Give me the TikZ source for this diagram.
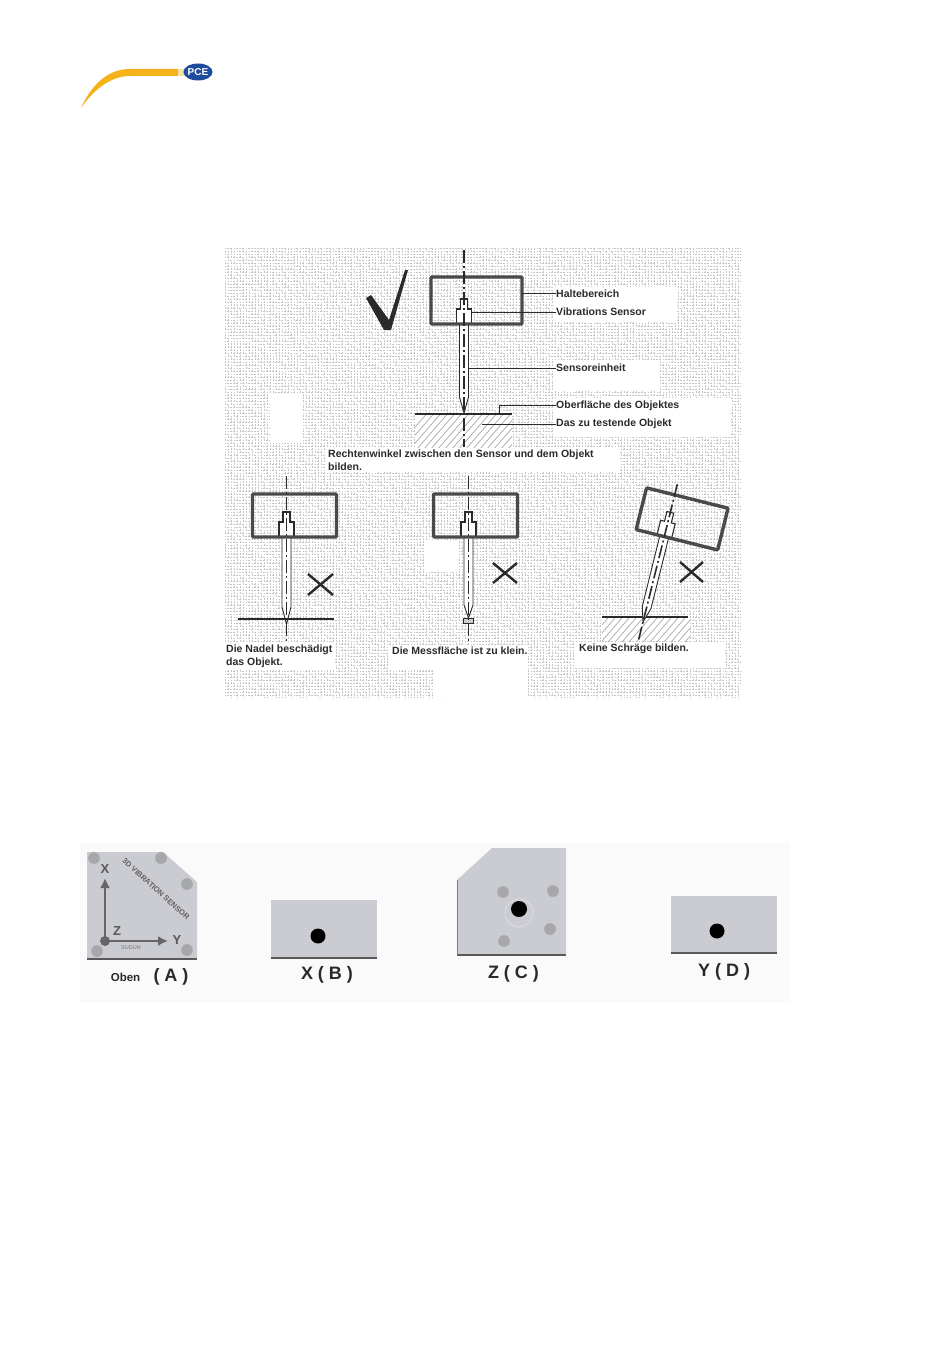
\documentclass[tikz,border=0pt]{standalone}
\usepackage{fontspec}
\setmainfont{Liberation Sans}
\usetikzlibrary{patterns,arrows.meta,shapes.geometric}
\definecolor{ink}{HTML}{2A2A2A}
\definecolor{plate}{HTML}{CBCCD2}
\definecolor{holeg}{HTML}{A6A7AA}
\definecolor{pceblue}{HTML}{1F4B9C}
\definecolor{swoosh}{HTML}{F5B21A}
\tikzset{
  lab/.style={font=\bfseries\fontsize{10.5}{12.5}\selectfont,text=ink,anchor=west,inner sep=0pt,align=left},
  lead/.style={draw=ink,line width=0.8pt},
  holderbox/.style={draw=ink!85,line width=3.4pt,rounded corners=1pt},
  axisline/.style={draw=ink,line width=1.6pt,dash pattern=on 13pt off 3pt on 2pt off 3pt},
  cross/.style={draw=ink,line width=2.4pt},
  ground/.style={draw=ink,line width=1.2pt},
  hatchline/.style={draw=gray!75,line width=0.6pt},
  whitepatch/.style={fill=white,draw=none},
  mazeline/.style={draw=gray!45,line width=0.45pt,dash pattern=on 0.8pt off 0.7pt},
  plateshape/.style={fill=plate,draw=none},
  plateedge/.style={draw=black!65,line width=1.4pt},
  hole/.style={fill=holeg,draw=black!25,line width=0.4pt},
  bore/.style={fill=black,draw=none},
  platelab/.style={font=\bfseries\fontsize{18}{20}\selectfont,text=ink,inner sep=0pt},
  axlab/.style={font=\bfseries\fontsize{13}{15}\selectfont,text=black!65,inner sep=0pt},
  axarrow/.style={draw=black!60,line width=2.4pt,-{Latex[length=10pt,width=10pt]}},
  needleline/.style={draw=ink,line width=0.9pt,fill=white},
  sensorpart/.style={draw=ink,line width=1.1pt,fill=white}
}
% #1 left edge of holder, #2 height of holder above the tip, #3 holder height, #4 taper length, #5 holder width
\newcommand{\sensorbody}[5]{
  \draw[needleline] (-4.5,{-(#2)}) -- (-4.5,{-(#4)}) -- (0,0) -- (4.5,{-(#4)}) -- (4.5,{-(#2)}) -- cycle;
  \draw[sensorpart] (-7.5,{-(#2)}) -- (-7.5,{-(#2)-15}) -- (-3.5,{-(#2)-15}) -- (-3.5,{-(#2)-25}) -- (3.5,{-(#2)-25}) -- (3.5,{-(#2)-15}) -- (7.5,{-(#2)-15}) -- (7.5,{-(#2)}) -- cycle;
  \draw[holderbox] ({#1},{-(#2)}) rectangle ({(#1)+(#5)},{-(#2)-(#3)});
}
\begin{document}
\begin{tikzpicture}[x=1pt,y=-1pt]
\useasboundingbox (0,0) rectangle (950,1364);
\fill[white] (0,0) rectangle (950,1364);
% logo
\fill[swoosh] (81,108) .. controls (92,84) and (108,69) .. (130,69) -- (178,69) -- (178,76) -- (130,76) .. controls (112,76) and (95,88) .. (81,108) -- cycle;
\fill[swoosh!40] (178,69) rectangle (184,76);
\node[ellipse,fill=pceblue,draw=none,minimum width=26pt,minimum height=17pt,inner sep=0pt,text=white,font=\bfseries\fontsize{10}{10}\selectfont] (logo) at (198,72) {PCE};
% textured panel
\pgfmathsetseed{7}
\foreach \x in {225,228,...,738} {
  \draw[mazeline] \foreach \y in {248,251,...,695} {
    \pgfextra{\pgfmathtruncatemacro\rr{random(0,1)}} (\x,\y) -- ++({3*\rr},{3*(1-\rr)}) };
}
\fill[whitepatch] (553,287) rectangle (677,322);
\fill[whitepatch] (553,360) rectangle (660,390);
\fill[whitepatch] (553,398) rectangle (730,437);
\fill[whitepatch] (325,447) rectangle (620,472);
\fill[whitepatch] (270,393) rectangle (303,443);
\fill[whitepatch] (225,643) rectangle (335,670);
\fill[whitepatch] (388,645) rectangle (528,670);
\fill[whitepatch] (433,670) rectangle (528,698);
\fill[whitepatch] (575,642) rectangle (725,668);
\fill[whitepatch] (424,541) rectangle (459,572);
% check mark
\fill[ink] (366,298) -- (371,295) -- (389,320) -- (405,270) -- (408,270) -- (391,330) -- (384,330) -- cycle;
% top correct sensor
\begin{scope}
  \clip (415,414) rectangle (512,447);
  \fill[white] (415,414) rectangle (512,447);
  \foreach \k in {0,7,...,140} \draw[hatchline] (395+\k,450) -- (430+\k,410);
\end{scope}
\draw[ground] (415,414) -- (512,414);
\begin{scope}[shift={(464,413)}]
  \sensorbody{-33}{89}{47}{16}{91}
\end{scope}
\draw[axisline] (464,250) -- (464,447);
\node[lab] (halte) at (556,293.5) {Haltebereich};
\node[lab] (vib) at (556,312) {Vibrations Sensor};
\node[lab] (einheit) at (556,368) {Sensoreinheit};
\node[lab] (ober) at (556,405.5) {Oberfläche des Objektes};
\node[lab] (test) at (556,424) {Das zu testende Objekt};
\coordinate (hA) at (522,293.5);
\coordinate (vA) at (472,312);
\coordinate (eA) at (469,368);
\coordinate (oA) at (499,414);
\coordinate (tA) at (482,424);
\draw[lead] (hA) -- (halte.west);
\draw[lead] (vA) -- (vib.west);
\draw[lead] (eA) -- (einheit.west);
\draw[lead] (oA) |- (ober.west);
\draw[lead] (tA) -- (test.west);
\node[lab] (right) at (328,460) {Rechtenwinkel zwischen den Sensor und dem Objekt\\bilden.};
% wrong 1
\begin{scope}[shift={(286.5,624)}]
  \sensorbody{-34}{87}{43}{17}{84}
\end{scope}
\draw[ground] (238,619) -- (334,619);
\draw[axisline] (286.5,476) -- (286.5,642);
\draw[cross] (308,574) -- (333,595) (333,574) -- (308,595);
\node[lab] (w1) at (226,656.5) {Die Nadel beschädigt\\das Objekt.};
% wrong 2
\begin{scope}[shift={(468.5,618)}]
  \sensorbody{-35}{81}{43}{13}{84}
\end{scope}
\draw[ink,line width=0.7pt,fill=gray!40] (463.5,618) rectangle (473.5,623);
\draw[axisline] (468.5,476) -- (468.5,644);
\draw[cross] (493,563) -- (517,583) (517,563) -- (493,583);
\node[lab] (w2) at (392,651) {Die Messfläche ist zu klein.};
% wrong 3
\begin{scope}
  \clip (602,617) rectangle (690,641);
  \fill[white] (602,617) rectangle (690,641);
  \foreach \k in {0,7,...,120} \draw[hatchline] (580+\k,650) -- (615+\k,610);
\end{scope}
\draw[ground] (602,617) -- (688,617);
\begin{scope}[shift={(643,622)},rotate=-14]
  \sensorbody{-29}{88}{43}{15}{84}
  \draw[axisline] (0,18) -- (0,-143);
\end{scope}
\draw[cross] (680,562) -- (703,582) (703,562) -- (680,582);
\node[lab] (w3) at (579,649) {Keine Schräge bilden.};
% lower band
\fill[black!2] (80,843) rectangle (790,1003);
% plate A
\fill[plateshape] (87,852) -- (163,852) -- (197,882) -- (197,959) -- (87,959) -- cycle;
\draw[plateedge] (87,959) -- (197,959);
\foreach \p in {(94,858),(161,858),(187,884),(187,950),(97,951)} \fill[hole] \p circle (6);
\node[rotate=-42,font=\bfseries\fontsize{7.6}{8}\selectfont,text=black!62,inner sep=0pt] (brand) at (156,889) {3D VIBRATION SENSOR};
\fill[black!60] (105,941) circle (5);
\coordinate (origin) at (105,941);
\node[axlab] (ax) at (105,869) {X};
\node[axlab] (ay) at (177,940) {Y};
\node[axlab] (az) at (117,931) {Z};
\coordinate (xend) at (105,878);
\coordinate (yend) at (168,941);
\draw[axarrow] (origin) -- (xend);
\draw[axarrow] (origin) -- (yend);
\node[font=\fontsize{5.5}{6}\selectfont,text=black!55,inner sep=0pt] (tiny) at (131,948) {SUDUN};
\node[font=\bfseries\fontsize{11.5}{13}\selectfont,text=ink,inner sep=0pt] (oben) at (125.5,977) {Oben};
\node[platelab] (la) at (171,977) {( A )};
% plate B
\fill[plateshape] (271,900) rectangle (377,958);
\draw[plateedge] (271,958) -- (377,958);
\fill[bore] (318,936) circle (7.5);
\node[platelab] (lb) at (327,975) {X ( B )};
% plate C
\fill[plateshape] (457,880) -- (492,848) -- (566,848) -- (566,955) -- (457,955) -- cycle;
\draw[plateedge] (457,955) -- (566,955);
\draw[black!50,line width=1pt] (457,880) -- (457,955);
\draw[plate!60!white,line width=0.7pt] (519,913) circle (14);
\foreach \p in {(503,892),(553,891),(550,929),(504,941)} \fill[hole] \p circle (6);
\fill[bore] (519,909) circle (8);
\node[platelab] (lc) at (513.5,974) {Z ( C )};
% plate D
\fill[plateshape] (671,896) rectangle (777,953);
\draw[plateedge] (671,953) -- (777,953);
\fill[bore] (717,931) circle (7.5);
\node[platelab] (ld) at (724,972) {Y ( D )};
\end{tikzpicture}
\end{document}
